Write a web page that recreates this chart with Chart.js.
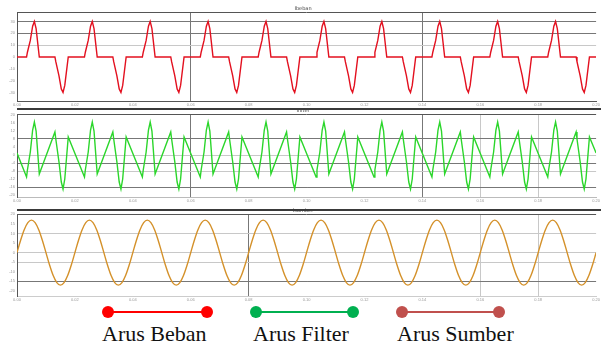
<!DOCTYPE html>
<html>
<head>
<meta charset="utf-8">
<script src="https://cdn.jsdelivr.net/npm/chart.js@4"></script>
<style>
  body { margin: 0; background: #fff; width: 601px; height: 343px; overflow: hidden; position: relative; }
  canvas { position: absolute; left: 0; }
  .sep { position: absolute; left: 17px; width: 584px; height: 2px; background: #3a3a3a; z-index: 2; }
  .garis { position: absolute; height: 2px; }
  .titik { position: absolute; width: 12px; height: 12px; border-radius: 50%; }
  .lbl { position: absolute; top: 323px; font: 22px/22px "Liberation Serif", serif; color: #111; white-space: nowrap; }
</style>
</head>
<body>
<canvas id="beban" width="601" height="108" style="top:0"></canvas>
<canvas id="filter" width="601" height="96" style="top:108px"></canvas>
<canvas id="sumber" width="601" height="99" style="top:204px"></canvas>
<div class="sep" style="top:108px"></div>
<div class="sep" style="top:209px"></div>

<div class="garis" style="left:108px;width:99px;top:311px;background:#ff0000"></div>
<div class="titik" style="left:102px;top:306px;background:#ff0000"></div>
<div class="titik" style="left:201px;top:306px;background:#ff0000"></div>
<div class="lbl" style="left:102px">Arus Beban</div>

<div class="garis" style="left:256px;width:97px;top:311px;background:#00b050"></div>
<div class="titik" style="left:250px;top:306px;background:#00b050"></div>
<div class="titik" style="left:347px;top:306px;background:#00b050"></div>
<div class="lbl" style="left:253px">Arus Filter</div>

<div class="garis" style="left:402px;width:97px;top:311px;background:#c0504d"></div>
<div class="titik" style="left:396px;top:306px;background:#c0504d"></div>
<div class="titik" style="left:493px;top:306px;background:#c0504d"></div>
<div class="lbl" style="left:397px">Arus Sumber</div>

<script>
// time in ms, shared by load and filter current
const waktu = [0,
  3.3,3.6,4.6,5.4,6,6.6,7.7,13.1,13.4,14.5,15.3,15.9,16.5,17.7,
  23.3,23.6,24.6,25.4,26,26.6,27.7,33.1,33.4,34.5,35.3,35.9,36.5,37.7,
  43.3,43.6,44.6,45.4,46,46.6,47.7,53.1,53.4,54.5,55.3,55.9,56.5,57.7,
  63.3,63.6,64.6,65.4,66,66.6,67.7,73.1,73.4,74.5,75.3,75.9,76.5,77.7,
  83.3,83.6,84.6,85.4,86,86.6,87.7,93.1,93.4,94.5,95.3,95.9,96.5,97.7,
  103.3,103.6,104.6,105.4,106,106.6,107.7,113.1,113.4,114.5,115.3,115.9,116.5,117.7,
  123.3,123.6,124.6,125.4,126,126.6,127.7,133.1,133.4,134.5,135.3,135.9,136.5,137.7,
  143.3,143.6,144.6,145.4,146,146.6,147.7,153.1,153.4,154.5,155.3,155.9,156.5,157.7,
  163.3,163.6,164.6,165.4,166,166.6,167.7,173.1,173.4,174.5,175.3,175.9,176.5,177.7,
  183.3,183.6,184.6,185.4,186,186.6,187.7,193.1,193.4,194.5,195.3,195.9,196.5,197.7,
  200];

const arusBeban = [0,
  0,4,14,26,30,24,0,0,-4,-16,-27,-30,-24,0,
  0,4,14,26,30,24,0,0,-4,-16,-27,-30,-24,0,
  0,4,14,26,30,24,0,0,-4,-16,-27,-30,-24,0,
  0,4,14,26,30,24,0,0,-4,-16,-27,-30,-24,0,
  0,4,14,26,30,24,0,0,-4,-16,-27,-30,-24,0,
  0,4,14,26,30,24,0,0,-4,-16,-27,-30,-24,0,
  0,4,14,26,30,24,0,0,-4,-16,-27,-30,-24,0,
  0,4,14,26,30,24,0,0,-4,-16,-27,-30,-24,0,
  0,4,14,26,30,24,0,0,-4,-16,-27,-30,-24,0,
  0,4,14,26,30,24,0,0,-4,-16,-27,-30,-24,0,
  0];

const arusFilter = [1,
  -11,-7.5,1.5,12.5,16.5,12,-9.5,11.5,8,-3.5,-13.5,-17,-12,9,
  -11,-7.5,1.5,12.5,16.5,12,-9.5,11.5,8,-3.5,-13.5,-17,-12,9,
  -11,-7.5,1.5,12.5,16.5,12,-9.5,11.5,8,-3.5,-13.5,-17,-12,9,
  -11,-7.5,1.5,12.5,16.5,12,-9.5,11.5,8,-3.5,-13.5,-17,-12,9,
  -11,-7.5,1.5,12.5,16.5,12,-9.5,11.5,8,-3.5,-13.5,-17,-12,9,
  -11,-7.5,1.5,12.5,16.5,12,-9.5,11.5,8,-3.5,-13.5,-17,-12,9,
  -11,-7.5,1.5,12.5,16.5,12,-9.5,11.5,8,-3.5,-13.5,-17,-12,9,
  -11,-7.5,1.5,12.5,16.5,12,-9.5,11.5,8,-3.5,-13.5,-17,-12,9,
  -11,-7.5,1.5,12.5,16.5,12,-9.5,11.5,8,-3.5,-13.5,-17,-12,9,
  -11,-7.5,1.5,12.5,16.5,12,-9.5,11.5,8,-3.5,-13.5,-17,-12,9,
  1];

const waktuSumber = [
  0,1.25,2.5,3.75,5,6.25,7.5,8.75,10,11.25,12.5,13.75,15,16.25,17.5,18.75,
  20,21.25,22.5,23.75,25,26.25,27.5,28.75,30,31.25,32.5,33.75,35,36.25,37.5,38.75,
  40,41.25,42.5,43.75,45,46.25,47.5,48.75,50,51.25,52.5,53.75,55,56.25,57.5,58.75,
  60,61.25,62.5,63.75,65,66.25,67.5,68.75,70,71.25,72.5,73.75,75,76.25,77.5,78.75,
  80,81.25,82.5,83.75,85,86.25,87.5,88.75,90,91.25,92.5,93.75,95,96.25,97.5,98.75,
  100,101.25,102.5,103.75,105,106.25,107.5,108.75,110,111.25,112.5,113.75,115,116.25,117.5,118.75,
  120,121.25,122.5,123.75,125,126.25,127.5,128.75,130,131.25,132.5,133.75,135,136.25,137.5,138.75,
  140,141.25,142.5,143.75,145,146.25,147.5,148.75,150,151.25,152.5,153.75,155,156.25,157.5,158.75,
  160,161.25,162.5,163.75,165,166.25,167.5,168.75,170,171.25,172.5,173.75,175,176.25,177.5,178.75,
  180,181.25,182.5,183.75,185,186.25,187.5,188.75,190,191.25,192.5,193.75,195,196.25,197.5,198.75,
  200];

const arusSumber = [
  0,6.5,12,15.7,17,15.7,12,6.5,0,-6.5,-12,-15.7,-17,-15.7,-12,-6.5,
  0,6.5,12,15.7,17,15.7,12,6.5,0,-6.5,-12,-15.7,-17,-15.7,-12,-6.5,
  0,6.5,12,15.7,17,15.7,12,6.5,0,-6.5,-12,-15.7,-17,-15.7,-12,-6.5,
  0,6.5,12,15.7,17,15.7,12,6.5,0,-6.5,-12,-15.7,-17,-15.7,-12,-6.5,
  0,6.5,12,15.7,17,15.7,12,6.5,0,-6.5,-12,-15.7,-17,-15.7,-12,-6.5,
  0,6.5,12,15.7,17,15.7,12,6.5,0,-6.5,-12,-15.7,-17,-15.7,-12,-6.5,
  0,6.5,12,15.7,17,15.7,12,6.5,0,-6.5,-12,-15.7,-17,-15.7,-12,-6.5,
  0,6.5,12,15.7,17,15.7,12,6.5,0,-6.5,-12,-15.7,-17,-15.7,-12,-6.5,
  0,6.5,12,15.7,17,15.7,12,6.5,0,-6.5,-12,-15.7,-17,-15.7,-12,-6.5,
  0,6.5,12,15.7,17,15.7,12,6.5,0,-6.5,-12,-15.7,-17,-15.7,-12,-6.5,
  0];

const waktuTicks = [0,20,40,60,80,100,120,140,160,180,200];
const bebanTicks = [-30,-20,-10,0,10,20,30];
const filterTicks = [-20,-16,-12,-8,-4,0,4,8,12,16,20];
const sumberTicks = [-20,-15,-10,-5,0,5,10,15,20];

// top border + tiny panel title
const bingkai = {
  id: 'bingkai',
  afterDraw(chart, args, opts) {
    const ctx = chart.ctx, a = chart.chartArea;
    ctx.save();
    ctx.strokeStyle = '#555';
    ctx.lineWidth = 1;
    ctx.beginPath();
    ctx.moveTo(a.left, a.top + 0.5);
    ctx.lineTo(a.right, a.top + 0.5);
    ctx.stroke();
    ctx.fillStyle = '#444';
    ctx.font = '5px "DejaVu Sans"';
    ctx.textAlign = 'center';
    ctx.fillText(opts.judul, 303, a.top - 2);
    ctx.restore();
  }
};

function panel(id, t, v, warna, padTop, yMin, yMax, yTicks, g, smooth, judul) {
  new Chart(document.getElementById(id), {
    type: 'line',
    data: {
      datasets: [{
        data: t.map((x, i) => ({ x: x, y: v[i] })),
        borderColor: warna,
        borderWidth: 1.4,
        pointRadius: 0,
        tension: 0,
        cubicInterpolationMode: smooth ? 'monotone' : 'default'
      }]
    },
    options: {
      responsive: false,
      animation: false,
      events: [],
      layout: { padding: { top: padTop, right: 3, left: 0, bottom: 0 } },
      plugins: { legend: { display: false }, tooltip: { enabled: false }, bingkai: { judul: judul } },
      scales: {
        x: {
          type: 'linear', min: 0, max: 200,
          afterBuildTicks: s => { s.ticks = waktuTicks.map(value => ({ value })); },
          afterFit: s => { s.height = 7; },
          ticks: { font: { size: 4 }, color: '#999', padding: 1, maxRotation: 0, autoSkip: false,
                   callback: val => (val / 1000).toFixed(2) },
          grid: { drawTicks: false, lineWidth: 1,
                  color: c => g.xGelap.includes(c.tick.value) ? '#777' : g.xTerang.includes(c.tick.value) ? '#c8c8c8' : 'rgba(0,0,0,0)' },
          border: { color: g.bawah }
        },
        y: {
          min: yMin, max: yMax,
          afterBuildTicks: s => { s.ticks = yTicks.map(value => ({ value })); },
          afterFit: s => { s.width = 17; },
          ticks: { font: { size: 4 }, color: '#999', padding: 2 },
          grid: { drawTicks: false, lineWidth: 1,
                  color: c => g.yGelap.includes(c.tick.value) ? '#777' : g.yTerang.includes(c.tick.value) ? '#c8c8c8' : 'rgba(0,0,0,0)' },
          border: { color: '#555' }
        }
      }
    },
    plugins: [bingkai]
  });
}

panel('beban', waktu, arusBeban, '#e3101f', 12, -37.2, 38, bebanTicks,
  { yGelap: [30, 20], yTerang: [10], xGelap: [60, 140], xTerang: [], bawah: '#555' }, false, 'Ibeban');
panel('filter', waktu, arusFilter, '#2bd62b', 6, -21, 20.5, filterTicks,
  { yGelap: [8, -4, -16], yTerang: [0, -8], xGelap: [60, 140], xTerang: [160, 180], bawah: '#bbb' }, false, 'Ifilter');
panel('sumber', waktuSumber, arusSumber, '#d4912a', 10, -22.7, 20.2, sumberTicks,
  { yGelap: [-15], yTerang: [10, 0, -5], xGelap: [80], xTerang: [160, 180], bawah: '#ccc' }, true, 'Isumber');
</script>
</body>
</html>
